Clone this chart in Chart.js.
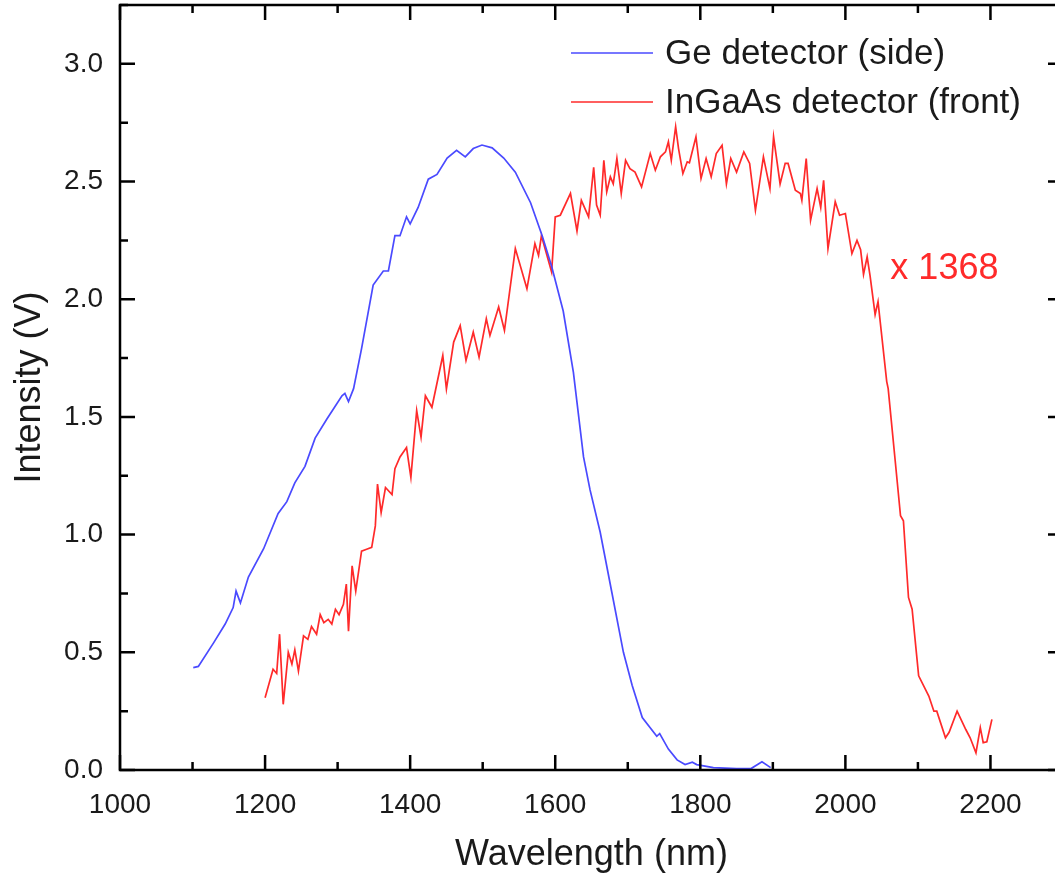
<!DOCTYPE html>
<html>
<head>
<meta charset="utf-8">
<title>Ge vs InGaAs detector</title>
<script src="https://cdn.jsdelivr.net/npm/chart.js@4.4.0/dist/chart.umd.min.js"></script>
<style>
  html, body { margin: 0; padding: 0; background: #fff; overflow: hidden; }
  #wrap { width: 1070px; height: 880px; }
</style>
</head>
<body>
<div id="wrap"><canvas id="chart" width="1070" height="880"></canvas></div>
<script>
// --------- Data ----------
const seriesLabels = ['Ge detector (side)', 'InGaAs detector (front)'];
const seriesColors = ['#4a4aff', '#ff2a2a'];
const scaleNote = 'x 1368';

const geWavelength = [1101, 1108, 1129, 1145, 1156, 1160, 1166, 1177, 1198, 1218, 1230, 1241, 1255, 1269, 1285,
  1306, 1310, 1315, 1322, 1333, 1349, 1363, 1370, 1379, 1386, 1395, 1400, 1411, 1425, 1437, 1451, 1464, 1476,
  1487, 1499, 1513, 1529, 1545, 1566, 1582, 1595, 1611, 1625, 1639, 1648, 1662, 1678, 1694, 1706, 1720, 1740,
  1744, 1756, 1768, 1779, 1789, 1795, 1818, 1850, 1870, 1885, 1897];
const geIntensity = [0.435, 0.44, 0.54, 0.62, 0.69, 0.76, 0.71, 0.82, 0.94, 1.09, 1.14, 1.22, 1.29, 1.41, 1.49,
  1.59, 1.60, 1.565, 1.62, 1.79, 2.06, 2.12, 2.12, 2.27, 2.27, 2.35, 2.32, 2.39, 2.51, 2.53, 2.60, 2.633, 2.605,
  2.64, 2.655, 2.643, 2.60, 2.54, 2.41, 2.27, 2.14, 1.95, 1.69, 1.33, 1.19, 1.01, 0.755, 0.50, 0.36, 0.223, 0.143,
  0.155, 0.089, 0.043, 0.023, 0.033, 0.023, 0.01, 0.006, 0.006, 0.035, 0.01];

const ingaasWavelength = [1200, 1211, 1216, 1220, 1225, 1232, 1237, 1241, 1246, 1253, 1259, 1264, 1271, 1276, 1281,
  1287, 1292, 1297, 1302, 1308, 1312, 1315, 1320, 1325, 1333, 1340, 1347, 1352, 1355, 1360, 1366, 1375, 1379,
  1386, 1395, 1401, 1409, 1415, 1421, 1430, 1445, 1450, 1460, 1469, 1477, 1487, 1495, 1505, 1510, 1522, 1530,
  1545, 1561, 1572, 1577, 1581, 1595, 1600, 1607, 1621, 1630, 1636, 1646, 1653, 1657, 1662, 1667, 1671, 1676,
  1680, 1685, 1691, 1697, 1703, 1710, 1719, 1731, 1738, 1745, 1752, 1756, 1760, 1766, 1770, 1776, 1782, 1785,
  1794, 1801, 1808, 1815, 1822, 1830, 1836, 1842, 1850, 1860, 1868, 1876, 1887, 1896, 1901, 1910, 1917, 1921,
  1931, 1938, 1940, 1946, 1952, 1961, 1966, 1970, 1976, 1986, 1992, 2000, 2009, 2016, 2021, 2025, 2030, 2034,
  2041, 2045, 2057, 2059, 2068, 2076, 2080, 2087, 2092, 2101, 2115, 2122, 2126, 2138, 2143, 2154, 2166, 2172,
  2180, 2186, 2190, 2195, 2202];
const ingaasIntensity = [0.307, 0.428, 0.41, 0.577, 0.279, 0.50, 0.45, 0.51, 0.42, 0.57, 0.555, 0.61, 0.577, 0.66, 0.626,
  0.64, 0.62, 0.683, 0.66, 0.704, 0.79, 0.59, 0.867, 0.76, 0.93, 0.938, 0.946, 1.037, 1.215, 1.094, 1.20, 1.17, 1.28,
  1.33, 1.37, 1.243, 1.527, 1.414, 1.59, 1.541, 1.761, 1.619, 1.818, 1.888, 1.74, 1.86, 1.754, 1.917, 1.846, 1.967, 1.867,
  2.215, 2.045, 2.236, 2.186, 2.27, 2.116, 2.35, 2.357, 2.45, 2.29, 2.42, 2.35, 2.56, 2.40, 2.357, 2.59, 2.456, 2.52,
  2.49, 2.598, 2.449, 2.59, 2.555, 2.54, 2.477, 2.619, 2.548, 2.605, 2.626, 2.669, 2.59, 2.733, 2.64, 2.534, 2.584, 2.58,
  2.69, 2.513, 2.598, 2.52, 2.619, 2.654, 2.49, 2.598, 2.54, 2.626, 2.577, 2.378, 2.605, 2.47, 2.69, 2.49, 2.577, 2.577,
  2.463, 2.449, 2.42, 2.598, 2.335, 2.47, 2.39, 2.505, 2.215, 2.414, 2.357, 2.364, 2.194, 2.25, 2.21, 2.105, 2.18, 2.1,
  1.935, 1.99, 1.65, 1.62, 1.335, 1.08, 1.059, 0.733, 0.683, 0.40, 0.314, 0.25, 0.25, 0.137, 0.16, 0.25, 0.172, 0.137,
  0.073, 0.18, 0.116, 0.12, 0.215];

const xTickLabels = [1000, 1200, 1400, 1600, 1800, 2000, 2200];
const yTickLabels = [0.0, 0.5, 1.0, 1.5, 2.0, 2.5, 3.0];

// --------- Helpers ----------
const FONT = "'Liberation Sans', Arial, sans-serif";
const INK = '#1a1a1a';

function toPoints(xs, ys) {
  return xs.map((x, i) => ({ x: x, y: ys[i] }));
}

// frame with inward ticks on all four sides, plus legend and the scale note
const framePlugin = {
  id: 'frame',
  afterDraw(chart) {
    const { ctx, chartArea: a, scales: { x, y } } = chart;
    ctx.save();
    ctx.strokeStyle = '#000';
    ctx.lineWidth = 2.5;
    ctx.strokeRect(a.left, a.top, a.right - a.left, a.bottom - a.top);

    const major = 15, minor = 8;
    ctx.beginPath();
    for (let v = x.min; v <= x.max; v += 100) {
      const px = x.getPixelForValue(v);
      const len = (v % 200 === 0) ? major : minor;
      ctx.moveTo(px, a.bottom); ctx.lineTo(px, a.bottom - len);
      ctx.moveTo(px, a.top);    ctx.lineTo(px, a.top + len);
    }
    for (let v = 0; v <= y.max + 1e-9; v += 0.25) {
      const py = y.getPixelForValue(v);
      const len = (Math.round(v * 4) % 2 === 0) ? major : minor;
      ctx.moveTo(a.left, py);  ctx.lineTo(a.left + len, py);
      ctx.moveTo(a.right, py); ctx.lineTo(a.right - len, py);
    }
    ctx.stroke();

    // legend
    ctx.font = '35px ' + FONT;
    ctx.textBaseline = 'middle';
    ctx.textAlign = 'left';
    chart.data.datasets.forEach((ds, i) => {
      const ly = a.top + 48 + i * 49;
      ctx.strokeStyle = ds.borderColor;
      ctx.lineWidth = 1.7;
      ctx.beginPath();
      ctx.moveTo(a.left + 451, ly);
      ctx.lineTo(a.left + 533, ly);
      ctx.stroke();
      ctx.fillStyle = INK;
      ctx.fillText(ds.label, a.left + 545, ly + 1);
    });

    // scale factor note for the InGaAs trace
    ctx.fillStyle = seriesColors[1];
    ctx.font = '36px ' + FONT;
    ctx.fillText(scaleNote, x.getPixelForValue(2062), y.getPixelForValue(2.13));
    ctx.restore();
  }
};

// --------- Chart ----------
const ctx = document.getElementById('chart').getContext('2d');
const chart = new Chart(ctx, {
  type: 'line',
  data: {
    datasets: [
      { label: seriesLabels[0], data: toPoints(geWavelength, geIntensity), borderColor: seriesColors[0] },
      { label: seriesLabels[1], data: toPoints(ingaasWavelength, ingaasIntensity), borderColor: seriesColors[1] }
    ]
  },
  options: {
    responsive: false,
    animation: false,
    devicePixelRatio: 1,
    layout: { padding: { top: 5, left: 0, right: 7, bottom: 0 } },
    elements: {
      point: { radius: 0 },
      line: { borderWidth: 1.7, tension: 0, fill: false }
    },
    plugins: {
      legend: { display: false },
      tooltip: { enabled: false }
    },
    scales: {
      x: {
        type: 'linear',
        min: 1000,
        max: 2300,
        afterBuildTicks: s => { s.ticks = xTickLabels.map(v => ({ value: v })); },
        afterFit: s => { s.height = 110; s.paddingLeft = 0; s.paddingRight = 0; },
        grid: { display: false, drawTicks: false },
        border: { display: false },
        ticks: { autoSkip: false, maxRotation: 0, padding: 18, color: INK, font: { family: FONT, size: 28 },
                 callback: v => String(v) },
        title: { display: true, text: 'Wavelength (nm)', color: INK, padding: { top: 0, bottom: 3 },
                 font: { family: FONT, size: 36, lineHeight: 1.2 } }
      },
      y: {
        type: 'linear',
        min: 0,
        max: 3.25,
        afterBuildTicks: s => { s.ticks = yTickLabels.map(v => ({ value: v })); },
        afterFit: s => { s.width = 120; s.paddingTop = 0; s.paddingBottom = 0; },
        grid: { display: false, drawTicks: false },
        border: { display: false },
        ticks: { autoSkip: false, padding: 17, color: INK, font: { family: FONT, size: 28 },
                 callback: v => Number(v).toFixed(1) },
        title: { display: true, text: 'Intensity (V)', color: INK, padding: { top: 8, bottom: 0 },
                 font: { family: FONT, size: 36, lineHeight: 1.2 } }
      }
    }
  },
  plugins: [framePlugin]
});
</script>
</body>
</html>
